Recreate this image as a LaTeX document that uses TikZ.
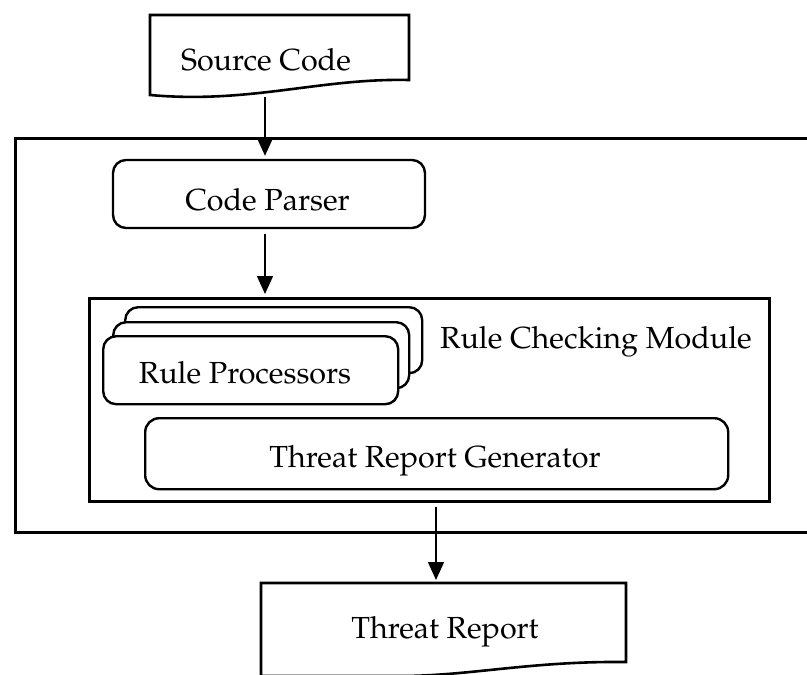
\documentclass[tikz,border=0pt]{standalone}
\usepackage[T1]{fontenc}
\usepackage{mathpazo}
\usetikzlibrary{arrows.meta}
\begin{document}
\begin{tikzpicture}[x=1pt,y=-1pt,
  box/.style={draw, line width=2.6pt},
  rbox/.style={draw, line width=2.4pt, rounded corners=13pt, fill=white},
  lbl/.style={font=\fontsize{30.5}{36}\selectfont, inner sep=0pt, text height=22pt, text depth=7pt},
  arr/.style={-{Triangle[length=18pt,width=16pt]}, line width=1.5pt, shorten >=3pt},
  doc/.style={line width=2.6pt, line join=miter}]
\useasboundingbox (0,0) rectangle (807,675);

% Source Code document
\draw[doc] (150,95) -- (150,15) -- (409,15) -- (409,80)
  .. controls (320,78) and (250,104) .. (150,95) -- cycle;
\node[lbl] (src) at (266,62.5) {Source Code};
\coordinate (srcb) at (265,97);

% outer box
\node[box, anchor=north west, minimum width=800, minimum height=394] (outer) at (14,137) {};

% code parser
\node[rbox, minimum width=312, minimum height=68] (parser) at (269,194) {};
\node[lbl] (parsertext) at (267.5,202.5) {Code Parser};

% inner box
\node[box, anchor=north west, minimum width=680, minimum height=203] (inner) at (88,297) {};

% rule processors stack
\node[rbox, anchor=north west, minimum width=297, minimum height=66] (rp3) at (124,306) {};
\node[rbox, anchor=north west, minimum width=296, minimum height=66] (rp2) at (112,321) {};
\node[rbox, anchor=north west, minimum width=295, minimum height=68] (rp1) at (102,335) {};
\node[lbl] (rptext) at (245,375.5) {Rule Processors};

\node[lbl, anchor=west] (rcm) at (440,340.5) {Rule Checking Module};

% threat report generator
\node[rbox, anchor=north west, minimum width=583, minimum height=71, rounded corners=14pt] (trg) at (144,417) {};
\node[lbl] (trgtext) at (435,459.5) {Threat Report Generator};

% Threat Report document
\draw[doc] (261,676) -- (261,583) -- (626,583) -- (626,662)
  .. controls (530,661) and (470,676) .. (400,676) -- cycle;
\node[lbl] (tr) at (445,630.5) {Threat Report};
\coordinate (trt) at (436,583);

% connectors
\draw[arr] (srcb) -- (srcb |- parser.north);
\draw[arr, shorten <=5pt] (parser.south -| srcb) -- (inner.north -| srcb);
\draw[arr, shorten <=4pt] (inner.south -| trt) -- (trt);
\end{tikzpicture}
\end{document}
